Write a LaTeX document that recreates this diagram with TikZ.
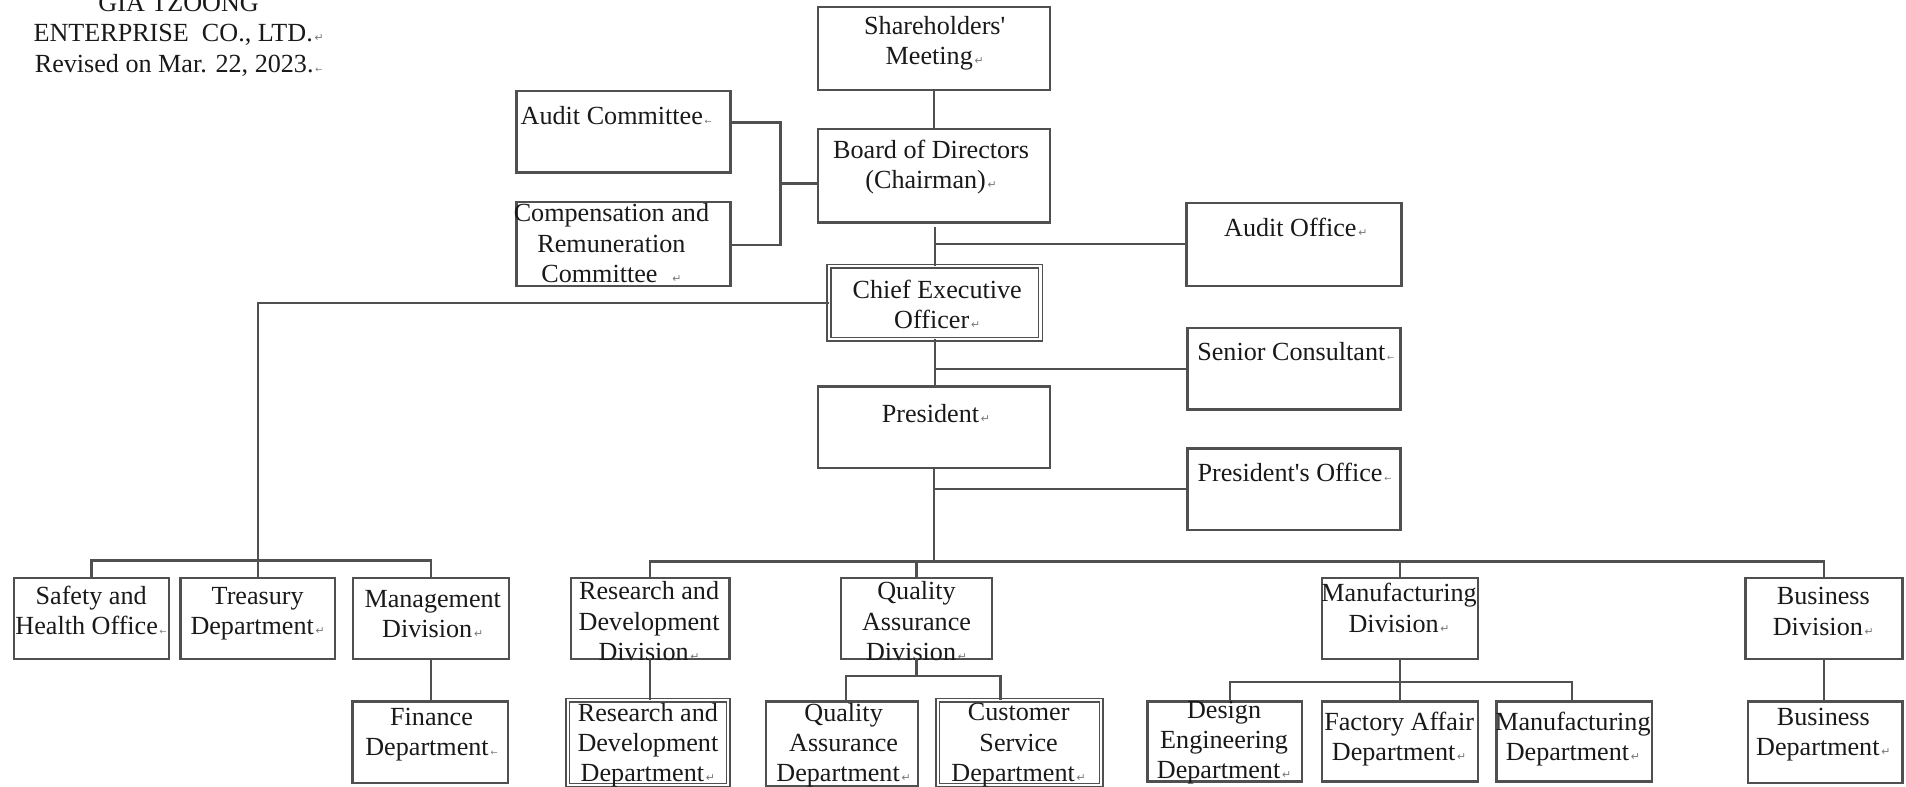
\documentclass[tikz,border=0pt]{standalone}
\usepackage{fontspec}
\setmainfont{Liberation Serif}
\newfontfamily\rawserif{Liberation Serif}
\newfontfamily\dejavu{DejaVu Sans}
\usetikzlibrary{fit}
\definecolor{linegray}{RGB}{80,80,80}
\definecolor{markgray}{RGB}{120,120,120}
\definecolor{txtblack}{RGB}{25,25,25}
\newcommand\ret{\hspace{1.5pt}{\dejavu\fontsize{9}{9}\selectfont\textcolor{markgray}{↵}}}
\newcommand\retl{\hspace{1.5pt}{\dejavu\fontsize{7}{7}\selectfont\textcolor{markgray}{←}}}
\begin{document}
\begin{tikzpicture}[x=1pt,y=-1pt,
  box/.style={draw=linegray, line width=1.9pt, inner sep=0pt, outer sep=0pt},
  dbox/.style={draw=linegray, double=white, double distance=1.8pt, line width=1.2pt, inner sep=0pt, outer sep=0pt},
  lbl/.style={font=\rawserif\fontsize{21.5}{25}\selectfont, align=center, inner sep=0pt, text=txtblack},
  conn/.style={draw=linegray, line width=1.9pt}]
\useasboundingbox (0,0) rectangle (1568,647);

% title
\node[lbl] (title) at (147,29) {GIA TZOONG\\ENTERPRISE\ \ CO., LTD.\ret\\Revised on Mar. 22, 2023.\retl};

% boxes
\node[box, fit={(673,6) (864,74)}] (sh) {};
\node[box, fit={(425,75) (601,142)}] (ac) {};
\node[box, fit={(673,106) (864,183)}] (bd) {};
\node[box, fit={(425,166) (601,235)}] (cc) {};
\node[box, fit={(976,167) (1153,235)}] (ao) {};
\node[dbox, fit={(682,219) (856,279)}] (ceo) {};
\node[box, fit={(977,270) (1152,337)}] (sc) {};
\node[box, fit={(673,318) (864,385)}] (pr) {};
\node[box, fit={(977,369) (1152,436)}] (po) {};

\node[box, fit={(11.5,475.5) (139,542)}] (sf) {};
\node[box, fit={(148.6,475.5) (275.6,542)}] (tr) {};
\node[box, fit={(290.6,475.5) (418.7,542)}] (md) {};
\node[box, fit={(470,475.5) (600,542)}] (rd) {};
\node[box, fit={(692,475.5) (816,542)}] (qd) {};
\node[box, fit={(1087.5,475.5) (1216,542)}] (mf) {};
\node[box, fit={(1436,475.5) (1565,542)}] (bs) {};

\node[box, fit={(290,577) (418,644)}] (fn) {};
\node[dbox, fit={(467,576) (599,646)}] (rdd) {};
\node[box, fit={(630,577) (755,647)}] (qad) {};
\node[dbox, fit={(771.5,576) (906,646)}] (cs) {};
\node[box, fit={(944,577) (1071,643)}] (de) {};
\node[box, fit={(1087.5,577) (1216,643)}] (fa) {};
\node[box, fit={(1231,577) (1359,643)}] (mfd) {};
\node[box, fit={(1438,577) (1565,644)}] (bsd) {};

% labels
\node[lbl] (sh-t) at (769,35.5) {Shareholders'\\Meeting\ret};
\node[lbl] (ac-t) at (507,95) {Audit Committee\retl};
\node[lbl] (bd-t) at (766,137.5) {Board of Directors\\(Chairman)\ret};
\node[lbl] (cc-t) at (503,200) {Compensation and\\Remuneration\\Committee\ \ \ret};
\node[lbl] (ao-t) at (1066,187) {Audit Office\ret};
\node[lbl] (ceo-t) at (771,250.5) {Chief Executive\\Officer\ret};
\node[lbl] (sc-t) at (1066,289) {Senior Consultant\retl};
\node[lbl] (pr-t) at (770,340) {President\ret};
\node[lbl] (po-t) at (1065,389) {President's Office\retl};

\node[lbl] (sf-t) at (75,502) {Safety and\\Health Office\retl};
\node[lbl] (tr-t) at (212,505) {Treasury\\Department\ret};
\node[lbl] (md-t) at (356,505) {Management\\Division\ret};
\node[lbl] (rd-t) at (534,511) {Research and\\Development\\Division\ret};
\node[lbl] (qd-t) at (754,511) {Quality\\Assurance\\Division\ret};
\node[lbl] (mf-t) at (1151,500) {Manufacturing\\Division\ret};
\node[lbl] (bs-t) at (1500,503) {Business\\Division\ret};

\node[lbl] (fn-t) at (355,604.5) {Finance\\Department\retl};
\node[lbl] (rdd-t) at (533,613) {Research and\\Development\\Department\ret};
\node[lbl] (qad-t) at (694,613) {Quality\\Assurance\\Department\ret};
\node[lbl] (cs-t) at (838,613) {Customer\\Service\\Department\ret};
\node[lbl] (de-t) at (1007,611) {Design\\Engineering\\Department\ret};
\node[lbl] (fa-t) at (1151,608) {Factory Affair\\Department\ret};
\node[lbl] (mfd-t) at (1294,608) {Manufacturing\\Department\ret};
\node[lbl] (bsd-t) at (1500,604.5) {Business\\Department\ret};

% helper coordinates
\coordinate (brtop) at (642,100.7);
\coordinate (brbot) at (642,201.5);
\coordinate (brmid) at (642,151);
\coordinate (bdgap) at (769,186.5);
\coordinate (lbar) at (0,461);
\coordinate (rbar) at (0,462);
\coordinate (qbarL) at (696,556);
\coordinate (qbarR) at (823,556);
\coordinate (mbarL) at (1012,561);
\coordinate (mbarR) at (1293,561);

% connectors
\draw[conn] (sh.south) -- (sh.south |- bd.north);
\draw[conn] (bdgap) -- (bdgap |- ceo.north);
\draw[conn] (bdgap |- ao.west) -- (ao.west);
\draw[conn] (ac.east |- brtop) -- (brtop) -- (brbot) -- (cc.east |- brbot);
\draw[conn] (brmid) -- (bd.west |- brmid);
\draw[conn] (ceo.west) -| (tr.north);
\draw[conn] (sf.north) -- (sf.north |- lbar) -- (md.north |- lbar) -- (md.north);
\draw[conn] (ceo.south) -- (ceo.south |- pr.north);
\draw[conn] (ceo.south |- sc.west) -- (sc.west);
\draw[conn] (pr.south) -- (pr.south |- rbar);
\draw[conn] (pr.south |- po.west) -- (po.west);
\draw[conn] (rd.north) -- (rd.north |- rbar) -- (bs.north |- rbar) -- (bs.north);
\draw[conn] (qd.north |- rbar) -- (qd.north);
\draw[conn] (mf.north |- rbar) -- (mf.north);
\draw[conn] (md.south) -- (md.south |- fn.north);
\draw[conn] (rd.south) -- (rd.south |- rdd.north);
\draw[conn] (qd.south) -- (qd.south |- qbarL);
\draw[conn] (qbarL |- qad.north) -- (qbarL) -- (qbarR) -- (qbarR |- cs.north);
\draw[conn] (mf.south) -- (mf.south |- fa.north);
\draw[conn] (mbarL |- de.north) -- (mbarL) -- (mbarR) -- (mbarR |- mfd.north);
\draw[conn] (bs.south) -- (bs.south |- bsd.north);
\end{tikzpicture}
\end{document}
